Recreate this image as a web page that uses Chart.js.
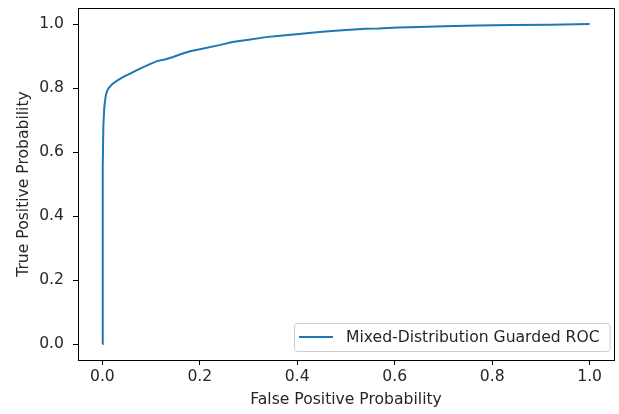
<!DOCTYPE html>
<html>
<head>
<meta charset="utf-8">
<title>ROC</title>
<script src="https://cdn.jsdelivr.net/npm/chart.js@4"></script>
<style>
  body { margin: 0; background: #fff; }
  canvas { display: block; }
</style>
</head>
<body>
<canvas id="chartRoc" width="619" height="414"></canvas>
<script>
// Valores
const fpr = [0, 0.0005, 0.001, 0.002, 0.004, 0.007, 0.01, 0.013, 0.02, 0.031, 0.045, 0.058, 0.07, 0.084, 0.1, 0.112, 0.13, 0.145, 0.165, 0.18, 0.2, 0.24, 0.267, 0.3, 0.336, 0.37, 0.404, 0.44, 0.471, 0.5, 0.54, 0.567, 0.607, 0.65, 0.7, 0.77, 0.84, 0.92, 1.0];
const tpr = [0, 0.3, 0.55, 0.68, 0.74, 0.777, 0.792, 0.80, 0.812, 0.824, 0.836, 0.846, 0.855, 0.865, 0.876, 0.884, 0.890, 0.897, 0.908, 0.915, 0.921, 0.934, 0.944, 0.951, 0.959, 0.964, 0.969, 0.974, 0.978, 0.981, 0.985, 0.986, 0.989, 0.991, 0.993, 0.995, 0.997, 0.998, 1.0];
const tickVals = [0, 0.2, 0.4, 0.6, 0.8, 1.0];
const serieLabel = 'Mixed-Distribution Guarded ROC';

const fonte = { family: 'DejaVu Sans', size: 15.6 };
const corTexto = '#262626';

// Moldura completa (spines topo e direita) + legenda no canto inferior direito
const molduraPlugin = {
    id: 'moldura',
    afterDraw(chart) {
        const ctx = chart.ctx;
        const a = chart.chartArea;
        ctx.save();
        ctx.strokeStyle = '#000';
        ctx.lineWidth = 1;
        ctx.strokeRect(Math.round(a.left) + 0.5, Math.round(a.top) + 0.5, Math.round(a.right - a.left), Math.round(a.bottom - a.top));

        // legenda
        const ds = chart.data.datasets[0];
        ctx.font = fonte.size + 'px ' + fonte.family;
        const textW = ctx.measureText(ds.label).width;
        const boxW = 5 + 34 + 13 + textW + 10;
        const boxH = 28;
        const x1 = Math.round(a.right - 4 - boxW);
        const y1 = Math.round(a.bottom - 9 - boxH);
        ctx.beginPath();
        ctx.roundRect(x1 + 0.5, y1 + 0.5, boxW, boxH, 3);
        ctx.fillStyle = 'rgba(255,255,255,0.8)';
        ctx.fill();
        ctx.strokeStyle = '#cccccc';
        ctx.stroke();
        const cy = y1 + boxH / 2;
        ctx.beginPath();
        ctx.moveTo(x1 + 5, cy);
        ctx.lineTo(x1 + 39, cy);
        ctx.strokeStyle = ds.borderColor;
        ctx.lineWidth = 2;
        ctx.stroke();
        ctx.fillStyle = corTexto;
        ctx.textBaseline = 'middle';
        ctx.fillText(ds.label, x1 + 52, cy + 1);
        ctx.restore();
    }
};

// tira o espaço extra que o Chart.js reserva para os rótulos
function semPadding(axis) {
    axis.paddingTop = 0;
    axis.paddingBottom = 0;
    axis.paddingLeft = 0;
    axis.paddingRight = 0;
}

const ctxRoc = document.getElementById('chartRoc').getContext('2d');
const chartRoc = new Chart(ctxRoc, {
    type: 'scatter',
    data: {
        datasets: [{
            label: serieLabel,
            data: fpr.map((x, i) => ({ x: x, y: tpr[i] })),
            showLine: true,
            borderColor: '#1f77b4',
            borderWidth: 2,
            pointRadius: 0,
            tension: 0
        }]
    },
    options: {
        responsive: false,
        animation: false,
        layout: { padding: { top: 8, right: 5, left: 0, bottom: 0 } },
        plugins: {
            legend: { display: false },
            tooltip: { enabled: false }
        },
        scales: {
            x: {
                type: 'linear',
                min: -0.05,
                max: 1.05,
                afterBuildTicks: axis => { axis.ticks = tickVals.map(v => ({ value: v })); },
                afterFit: axis => { axis.height = 54; semPadding(axis); },
                ticks: {
                    color: corTexto,
                    font: fonte,
                    padding: 3,
                    maxRotation: 0,
                    callback: v => v.toFixed(1)
                },
                grid: { drawOnChartArea: false, drawTicks: true, tickLength: 5, color: '#000', lineWidth: 1 },
                border: { display: true, color: '#000', width: 1 },
                title: {
                    display: true,
                    text: 'False Positive Probability',
                    color: corTexto,
                    font: fonte,
                    padding: { top: 0, bottom: 5 }
                }
            },
            y: {
                type: 'linear',
                min: -0.05,
                max: 1.05,
                afterBuildTicks: axis => { axis.ticks = tickVals.map(v => ({ value: v })); },
                afterFit: axis => { axis.width = 78; semPadding(axis); },
                ticks: {
                    color: corTexto,
                    font: fonte,
                    padding: 9,
                    callback: v => v.toFixed(1)
                },
                grid: { drawOnChartArea: false, drawTicks: true, tickLength: 5, color: '#000', lineWidth: 1 },
                border: { display: true, color: '#000', width: 1 },
                title: {
                    display: true,
                    text: 'True Positive Probability',
                    color: corTexto,
                    font: fonte,
                    padding: { top: 15, bottom: 0 }
                }
            }
        }
    },
    plugins: [molduraPlugin]
});
</script>
</body>
</html>
